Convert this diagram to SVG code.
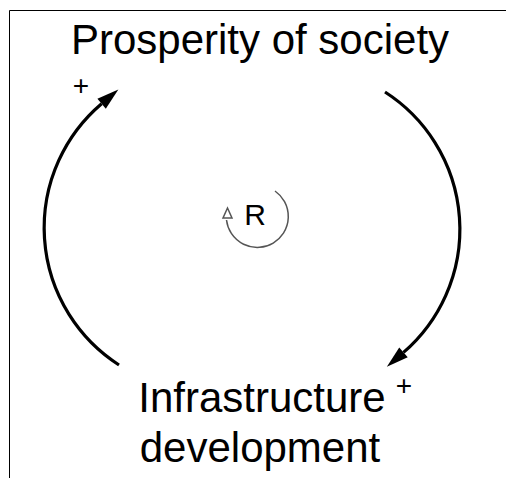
<svg xmlns="http://www.w3.org/2000/svg" width="506" height="478" viewBox="0 0 506 478">
<style>
text{font-family:"Liberation Sans",Arial,sans-serif;fill:#000}
.lbl{font-size:42px;text-anchor:middle}
.pol{font-size:28px;text-anchor:middle}
.link{fill:none;stroke:#000;stroke-width:3.2}
</style>
<defs>
<marker id="ah" markerUnits="userSpaceOnUse" markerWidth="24" markerHeight="16" refX="0" refY="8" orient="auto" overflow="visible">
<path d="M0,1.5 L22,8 L0,14.5 z" fill="#000"/>
</marker>
</defs>
<rect width="506" height="478" fill="#fff"/>
<path d="M9.5,478 V10.5 H506" fill="none" stroke="#000" stroke-width="1"/>
<g id="connectors">
<path class="link" d="M119,365 A163,163 0 0 1 101.6,103.7" marker-end="url(#ah)"/>
<path class="link" d="M385,92 A163,163 0 0 1 403.5,352.4" marker-end="url(#ah)"/>
</g>
<g id="prosperity">
<text class="lbl" x="260" y="54">Prosperity of society</text>
</g>
<g id="infrastructure">
<text class="lbl" x="262" y="412">Infrastructure</text>
<text class="lbl" x="260" y="462">development</text>
</g>
<g id="polarities">
<text class="pol" x="81" y="95">+</text>
<text class="pol" x="404" y="395">+</text>
</g>
<g id="loop">
<path d="M275,191 A31,31 0 1 1 226.5,220" fill="none" stroke="#555" stroke-width="1.5"/>
<polygon points="227.5,208 223,218 232,218" fill="#fff" stroke="#555" stroke-width="1.5"/>
<text x="255" y="225" style="font-size:30px;text-anchor:middle">R</text>
</g>
</svg>
